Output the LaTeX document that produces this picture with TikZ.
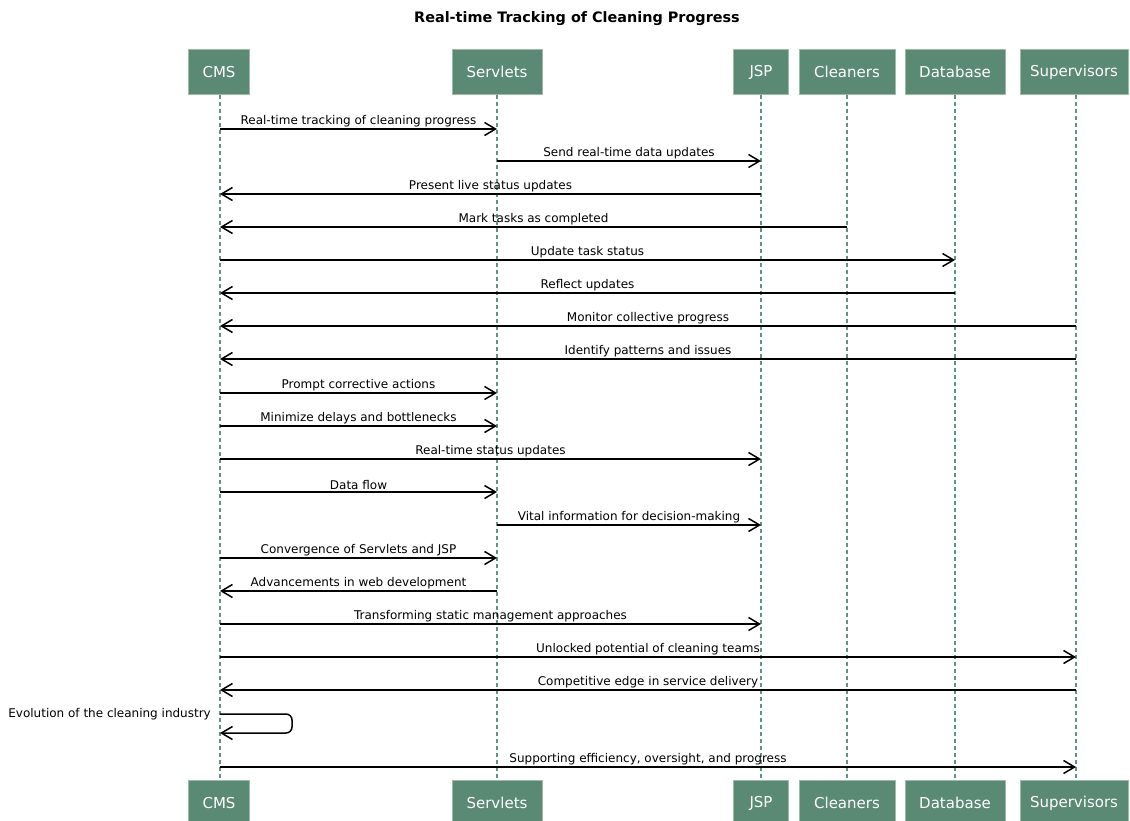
\documentclass[tikz,border=0pt]{standalone}
\usepackage{fontspec}
\setmainfont{DejaVu Sans}
\usetikzlibrary{arrows.meta}
\definecolor{actgreen}{HTML}{5A8A73}
\definecolor{lifegreen}{HTML}{5F957E}

\begin{document}
\begin{tikzpicture}[x=1pt,y=-1pt,
    actor/.style={draw=actgreen!60!white,fill=actgreen,text=white,
      font=\fontsize{15}{17}\selectfont,minimum height=45pt,inner sep=0pt},
    life/.style={lifegreen,line width=2.4pt,dash pattern=on 4pt off 3pt},
    msg/.style={-{Straight Barb[length=11pt,width=13pt]},line width=1.5pt},
    lbl/.style={above,font=\fontsize{12}{14}\selectfont,inner sep=1.5pt}]
  \useasboundingbox (0,0) rectangle (1130,821);
  \node[font=\bfseries\fontsize{14.4}{17}\selectfont] (title) at (577,19) {Real-time Tracking of Cleaning Progress};
  % participants, top and bottom
  \node[actor,minimum width=61pt]  (cms)  at (219,72)  {CMS};
  \node[actor,minimum width=90pt]  (srv)  at (497,72)  {Servlets};
  \node[actor,minimum width=55pt]  (jsp)  at (761,72)  {JSP};
  \node[actor,minimum width=96pt]  (cln)  at (847,72)  {Cleaners};
  \node[actor,minimum width=100pt] (db)   at (955,72)  {Database};
  \node[actor,minimum width=108pt] (sup)  at (1074,72) {Supervisors};
  \node[actor,minimum width=61pt]  (cmsb) at (219,803) {CMS};
  \node[actor,minimum width=90pt]  (srvb) at (497,803) {Servlets};
  \node[actor,minimum width=55pt]  (jspb) at (761,803) {JSP};
  \node[actor,minimum width=96pt]  (clnb) at (847,803) {Cleaners};
  \node[actor,minimum width=100pt] (dbb)  at (955,803) {Database};
  \node[actor,minimum width=108pt] (supb) at (1074,803) {Supervisors};
  \draw[life] ([xshift=1pt]cms.south) -- ([xshift=1pt]cmsb.north);
  \draw[life] (srv) -- (srvb);
  \draw[life] (jsp) -- (jspb);
  \draw[life] (cln) -- (clnb);
  \draw[life] (db) -- (dbb);
  \draw[life] ([xshift=2pt]sup.south) -- ([xshift=2pt]supb.north);
  % message rows
  \foreach \r/\y in {1/129,2/161,3/194,4/227,5/260,6/293,7/326,8/359,9/393,10/426,
                     11/459,12/492,13/525,14/558,15/591,16/624,17/657,18/690,19/714,20/767}
    \coordinate (r\r) at (0,\y);
  \coordinate (r19b) at (0,733);
  \coordinate (loop) at (292,0);
  \coordinate (cmsl) at (220,0);
  \coordinate (supl) at (1076,0);
  \draw[msg] (cmsl |- r1) -- node[lbl] {Real-time tracking of cleaning progress} (srv |- r1);
  \draw[msg] (srv |- r2) -- node[lbl] {Send real-time data updates} (jsp |- r2);
  \draw[msg] (jsp |- r3) -- node[lbl] {Present live status updates} (cmsl |- r3);
  \draw[msg] (cln |- r4) -- node[lbl] {Mark tasks as completed} (cmsl |- r4);
  \draw[msg] (cmsl |- r5) -- node[lbl] {Update task status} (db |- r5);
  \draw[msg] (db |- r6) -- node[lbl] {Reflect updates} (cmsl |- r6);
  \draw[msg] (supl |- r7) -- node[lbl] {Monitor collective progress} (cmsl |- r7);
  \draw[msg] (supl |- r8) -- node[lbl] {Identify patterns and issues} (cmsl |- r8);
  \draw[msg] (cmsl |- r9) -- node[lbl] {Prompt corrective actions} (srv |- r9);
  \draw[msg] (cmsl |- r10) -- node[lbl] {Minimize delays and bottlenecks} (srv |- r10);
  \draw[msg] (cmsl |- r11) -- node[lbl] {Real-time status updates} (jsp |- r11);
  \draw[msg] (cmsl |- r12) -- node[lbl] {Data flow} (srv |- r12);
  \draw[msg] (srv |- r13) -- node[lbl] {Vital information for decision-making} (jsp |- r13);
  \draw[msg] (cmsl |- r14) -- node[lbl] {Convergence of Servlets and JSP} (srv |- r14);
  \draw[msg] (srv |- r15) -- node[lbl] {Advancements in web development} (cmsl |- r15);
  \draw[msg] (cmsl |- r16) -- node[lbl] {Transforming static management approaches} (jsp |- r16);
  \draw[msg] (cmsl |- r17) -- node[lbl] {Unlocked potential of cleaning teams} (supl |- r17);
  \draw[msg] (supl |- r18) -- node[lbl] {Competitive edge in service delivery} (cmsl |- r18);
  \draw[msg,rounded corners=6pt] (cmsl |- r19) -- (loop |- r19) -- (loop |- r19b) -- (cmsl |- r19b);
  \node[font=\fontsize{12}{14}\selectfont,anchor=east,inner sep=0pt] (self) at ([xshift=-8pt]cms |- r19) {Evolution of the cleaning industry};
  \draw[msg] (cmsl |- r20) -- node[lbl] {Supporting efficiency, oversight, and progress} (supl |- r20);
\end{tikzpicture}
\end{document}
